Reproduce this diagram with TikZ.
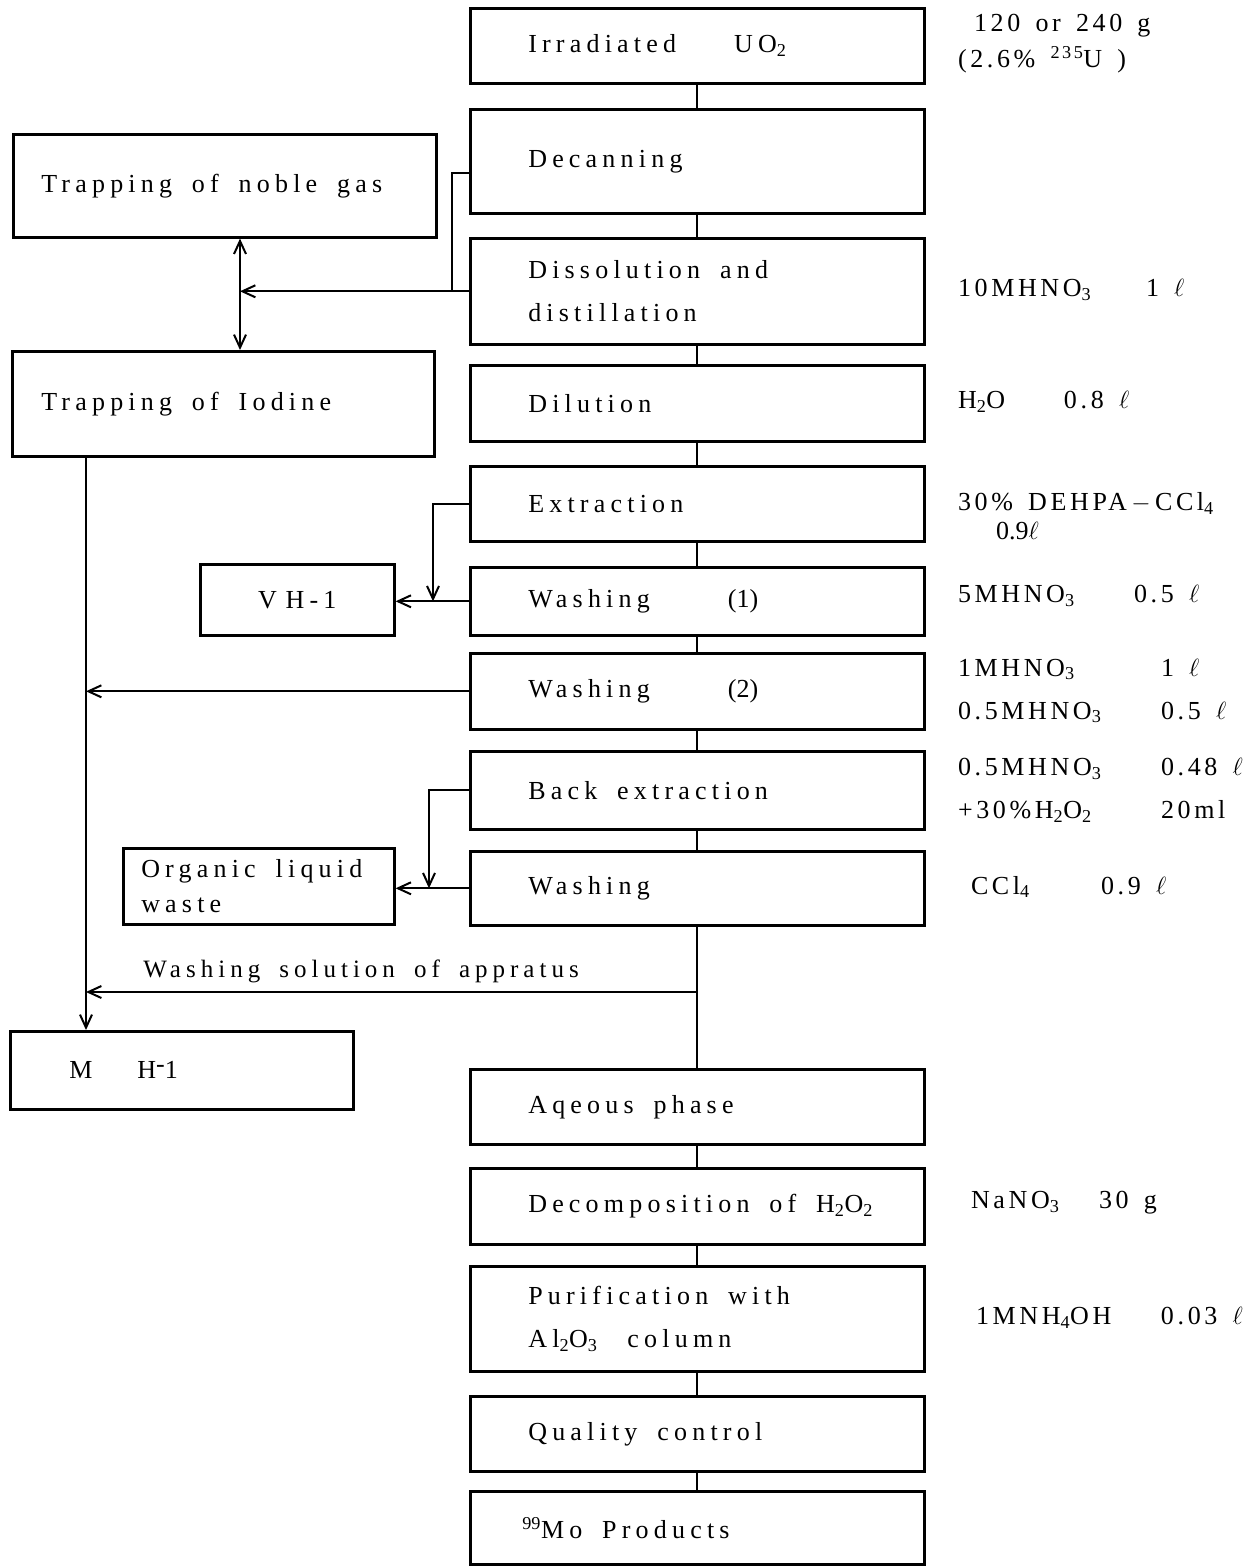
\documentclass[tikz,border=0pt]{standalone}
\usepackage{fontspec}
\setmainfont{Liberation Serif}
\newfontfamily\boxfont{Liberation Serif}[LetterSpace=20, WordSpace=1.7]
\newfontfamily\notefont{Liberation Serif}[LetterSpace=14, WordSpace=1.5]
\newcommand\tight[1]{{\addfontfeature{LetterSpace=0}#1}}
\usetikzlibrary{arrows.meta}

\tikzset{
  stepbox/.style={draw, line width=2.6pt, anchor=north west, align=flush left,
    text width=338pt, inner xsep=58pt, inner ysep=0pt, minimum height=#1,
    font=\boxfont\fontsize{26}{43}\selectfont},
  sidebox/.style={draw, line width=2.6pt, anchor=north west, align=flush left,
    inner ysep=0pt, font=\boxfont\fontsize{26}{43}\selectfont},
  note/.style={anchor=west, inner sep=0pt, align=flush left,
    font=\notefont\fontsize{26}{43}\selectfont},
}

\begin{document}
\begin{tikzpicture}[x=1pt, y=-1pt, line width=2pt,
    >={Straight Barb[length=13pt,width=12pt]}]
        \useasboundingbox (0,0) rectangle (1257,1566);

        % main column
        \node[stepbox=75] (irr) at (469,7) {Irradiated\hspace*{58pt}UO\textsubscript{2}};
        \node[stepbox=104] (dec) at (469,108) {Decanning};
        \node[stepbox=106] (dis) at (469,237) {Dissolution and\\distillation};
        \node[stepbox=76] (dil) at (469,364) {Dilution};
        \node[stepbox=75] (ext) at (469,465) {Extraction};
        \node[stepbox=68] (w1) at (469,566) {Washing\hspace*{78pt}\tight{(1)}};
        \node[stepbox=76] (w2) at (469,652) {Washing\hspace*{78pt}\tight{(2)}};
        \node[stepbox=78] (bex) at (469,750) {Back extraction};
        \node[stepbox=74] (w3) at (469,850) {Washing};
        \node[stepbox=75] (aq) at (469,1068) {Aqeous phase};
        \node[stepbox=76] (dcp) at (469,1167) {\mbox{Decomposition of H\textsubscript{2}O\textsubscript{2}}};
        \node[stepbox=105] (pur) at (469,1265) {Purification with\\Al\textsubscript{2}O\textsubscript{3}\hspace*{30pt}column};
        \node[stepbox=75] (qc) at (469,1395) {Quality control};
        \node[stepbox=73] (mo) at (469,1490) {\hspace*{-6pt}\textsuperscript{\tight{99}}Mo Products};

        % side boxes
        \node[sidebox, text width=367pt, inner xsep=28pt, minimum height=103] (ng) at (12,133) {Trapping of noble gas};
        \node[sidebox, text width=364pt, inner xsep=29pt, minimum height=105] (iod) at (11,350) {Trapping of Iodine};
        \node[sidebox, align=center, text width=174pt, inner xsep=10pt, minimum height=71] (vh) at (199,563) {V H-1};
        \node[sidebox, text width=235pt, inner xsep=18pt, minimum height=76,
              font=\boxfont\fontsize{26}{35}\selectfont] (org) at (122,847) {Organic liquid\\waste};
        \node[sidebox, text width=225pt, inner xsep=59pt, minimum height=78] (mh) at (9,1030) {M\hspace{45pt}H\raisebox{6pt}{-}1};

        % amounts
        \node[note, font=\notefont\fontsize{26}{36}\selectfont] (n1) at (957,44) {\hspace*{16pt}120 or 240 g\\(2.6\% \textsuperscript{235}U )};
        \node[note] (n2) at (957,290) {\makebox[188pt][l]{10MHNO\textsubscript{3}}1 $\ell$};
        \node[note] (n3) at (957,402) {\makebox[106pt][l]{H\textsubscript{2}O}0.8 $\ell$};
        \node[note, font=\notefont\fontsize{26}{29}\selectfont] (n4) at (957,516) {30\% DEHPA\,$-$\,CCl\textsubscript{4}\\\hspace*{38pt}\tight{0.9}$\ell$};
        \node[note] (n5) at (957,596) {\makebox[176pt][l]{5MHNO\textsubscript{3}}0.5 $\ell$};
        \node[note] (n6) at (957,691) {\makebox[203pt][l]{1MHNO\textsubscript{3}}1 $\ell$\\\makebox[203pt][l]{0.5MHNO\textsubscript{3}}0.5 $\ell$};
        \node[note] (n7) at (957,790) {\makebox[203pt][l]{0.5MHNO\textsubscript{3}}0.48 $\ell$\\\makebox[203pt][l]{+30\%H\textsubscript{2}O\textsubscript{2}}20ml};
        \node[note] (n8) at (970,887) {\makebox[130pt][l]{CCl\textsubscript{4}}0.9 $\ell$};
        \node[note] (n9) at (970,1203) {\makebox[128pt][l]{NaNO\textsubscript{3}}30 g};
        \node[note] (n10) at (975,1318) {\makebox[185pt][l]{1MNH\textsubscript{4}OH}0.03 $\ell$};

        % main flow
        \foreach \a/\b in {irr/dec, dec/dis, dis/dil, dil/ext, ext/w1, w1/w2, w2/bex, bex/w3, w3/aq, aq/dcp, dcp/pur, pur/qc, qc/mo}
            \draw (\a) -- (\b);

        \coordinate (lft) at (86,0);
        \coordinate (dbl) at (240,0);
        \coordinate (bx0) at (452,0);
        \coordinate (bx1) at (433,0);
        \coordinate (bx2) at (429,0);

        % gases
        \draw[<->] (ng.south -| dbl) -- (iod.north -| dbl);
        \draw ([yshift=-12pt]dec.west) -| (bx0 |- dis.west);
        \draw[->] (dis.west) -- (dis.west -| dbl);

        % liquid wastes
        \draw[->] (iod.south -| lft) -- (mh.north -| lft);
        \draw[->] (ext.west) -| (bx1 |- w1.west);
        \draw[->] (w1.west) -- (vh.east |- w1.west);
        \draw[->] (w2.west) -- (lft |- w2.west);
        \draw[->] (bex.west) -| (bx2 |- w3.west);
        \draw[->] (w3.west) -- (org.east |- w3.west);
        \coordinate (sol) at (w3.south |- 0,992);
        \draw[->] (sol) -- (lft |- sol)
            node[pos=.55, above=5pt, font=\boxfont\fontsize{25}{30}\selectfont] {Washing solution of appratus};
\end{tikzpicture}
\end{document}
